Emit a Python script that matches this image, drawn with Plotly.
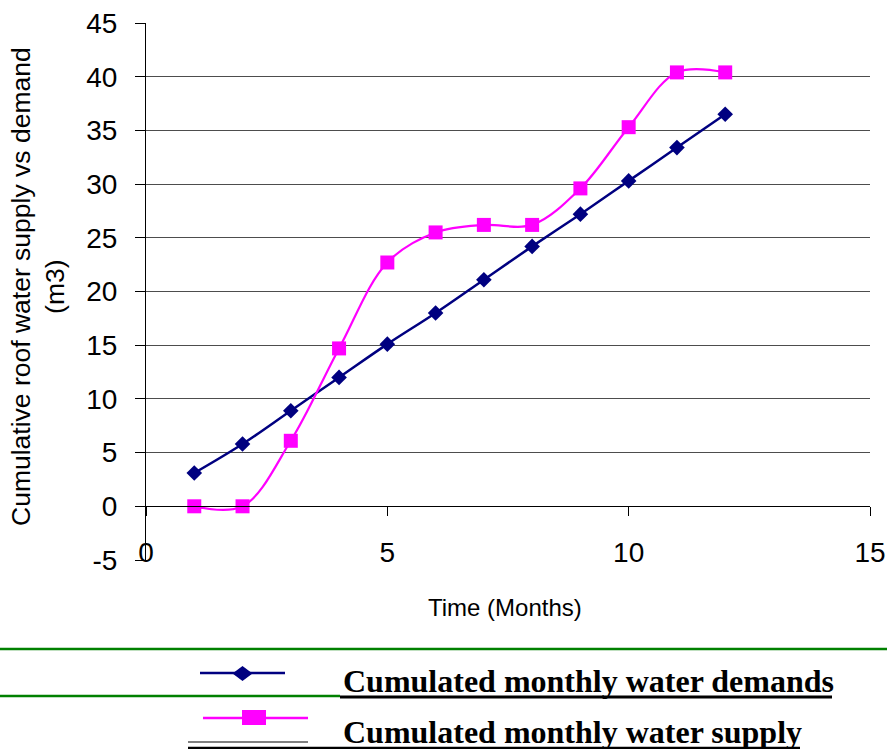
import plotly.graph_objects as go

# ---- data ----
months = [1, 2, 3, 4, 5, 6, 7, 8, 9, 10, 11, 12]
demand = [3.1, 5.8, 8.9, 12.0, 15.1, 18.0, 21.1, 24.2, 27.2, 30.3, 33.4, 36.5]
supply = [0.0, 0.0, 6.1, 14.7, 22.7, 25.5, 26.2, 26.2, 29.6, 35.3, 40.4, 40.4]
name_demand = "Cumulated monthly water demands"
name_supply = "Cumulated monthly water supply"
x_ticks = [0, 5, 10, 15]
x_ticktext = ["0", "5", "10", "15"]
y_ticks = [-5, 0, 5, 10, 15, 20, 25, 30, 35, 40, 45]
y_ticktext = ["-5", "0", "5", "10", "15", "20", "25", "30", "35", "40", "45"]

FIG_W, FIG_H = 887, 749
L, R, T, B = 146, 870, 23, 560
W, H = R - L, B - T


def px(x):
    return (x - L) / W


def py(y):
    return (B - y) / H


SANS = "Liberation Sans, Arial, sans-serif"
SERIF = "Liberation Serif, Times New Roman, serif"
NAVY = "#000080"
MAGENTA = "#FF00FF"

fig = go.Figure()
fig.add_trace(go.Scatter(
    x=months, y=demand, name=name_demand, mode="lines+markers",
    line=dict(color=NAVY, width=2.5, shape="spline", smoothing=1),
    marker=dict(symbol="diamond", size=12, color=NAVY, line=dict(width=0)),
))
fig.add_trace(go.Scatter(
    x=months, y=supply, name=name_supply, mode="lines+markers",
    line=dict(color=MAGENTA, width=2.2, shape="spline", smoothing=1),
    marker=dict(symbol="square", size=14, color=MAGENTA, line=dict(width=0)),
))

shapes = []


def hline(x0, x1, y, color, width):
    shapes.append(dict(type="line", xref="paper", yref="paper",
                       x0=px(x0), x1=px(x1), y0=py(y), y1=py(y),
                       line=dict(color=color, width=width)))


# legend block decorations (document rules / underlines)
hline(0, 887, 649, "#008000", 2.5)
hline(0, 340, 696, "#008000", 2.5)
hline(340, 832, 697, "#000000", 3)
hline(200, 285, 673, NAVY, 2.5)
hline(203, 308, 718, MAGENTA, 2.5)
hline(188, 308, 742, "#808080", 2)
hline(188, 800, 748, "#000000", 2.5)

# legend glyphs
cx, cy, hw, hh = 242.5, 673.5, 10, 7.5
shapes.append(dict(type="path", xref="paper", yref="paper",
                   path=f"M{px(cx-hw)},{py(cy)} L{px(cx)},{py(cy-hh)} L{px(cx+hw)},{py(cy)} L{px(cx)},{py(cy+hh)} Z",
                   fillcolor=NAVY, line=dict(width=0)))
shapes.append(dict(type="rect", xref="paper", yref="paper",
                   x0=px(242), x1=px(266), y0=py(710), y1=py(725),
                   fillcolor=MAGENTA, line=dict(width=0)))

annotations = [
    dict(text=name_demand, xref="paper", yref="paper", x=px(341), y=py(681),
         xanchor="left", yanchor="middle", showarrow=False,
         font=dict(family=SERIF, size=32, color="black", weight="bold")),
    dict(text=name_supply, xref="paper", yref="paper", x=px(341), y=py(732),
         xanchor="left", yanchor="middle", showarrow=False,
         font=dict(family=SERIF, size=32, color="black", weight="bold")),
    dict(text="Time (Months)", xref="paper", yref="paper", x=px(505), y=py(607),
         xanchor="center", yanchor="middle", showarrow=False,
         font=dict(family=SANS, size=24, color="black")),
    dict(text="Cumulative roof water supply vs demand<br>(m3)", xref="paper", yref="paper",
         x=px(38), y=py(287), xanchor="center", yanchor="middle", textangle=-90,
         showarrow=False, font=dict(family=SANS, size=26.5, color="black")),
]

fig.update_layout(
    width=FIG_W, height=FIG_H, autosize=False,
    margin=dict(l=L, r=FIG_W - R, t=T, b=FIG_H - B, autoexpand=False),
    paper_bgcolor="white", plot_bgcolor="white",
    showlegend=False,
    shapes=shapes, annotations=annotations,
    xaxis=dict(range=[0, 15], tickvals=x_ticks, ticktext=x_ticktext,
               anchor="free", position=0.1, automargin=False,
               showline=True, linecolor="black", linewidth=1,
               ticks="outside", ticklen=9, tickcolor="black", tickwidth=1,
               showgrid=False, zeroline=False,
               ticklabelstandoff=12,
               tickfont=dict(family=SANS, size=28, color="black")),
    xaxis2=dict(range=[0, 15], overlaying="x", anchor="y", side="bottom",
                automargin=False,
                showline=True, linecolor="black", linewidth=1.5,
                showticklabels=False, ticks="", showgrid=False, zeroline=False),
    yaxis=dict(range=[-5, 45], tickvals=y_ticks, ticktext=y_ticktext, anchor="x",
               automargin=False,
               showline=True, linecolor="black", linewidth=1,
               ticks="outside", ticklen=10, tickcolor="black", tickwidth=1,
               showgrid=True, gridcolor="#4d4d4d", gridwidth=1, zeroline=False,
               ticklabelstandoff=12,
               tickfont=dict(family=SANS, size=28, color="black")),
)

fig.write_html("out.html")
